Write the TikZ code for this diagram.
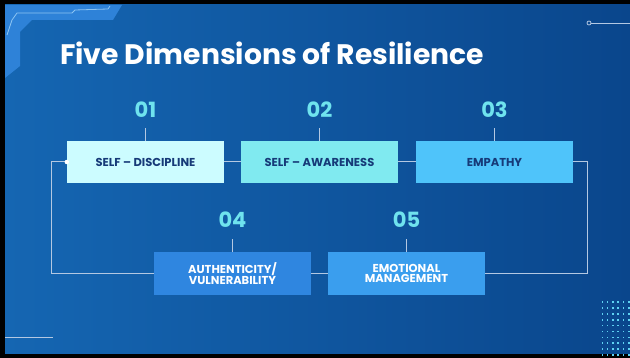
\documentclass[tikz,border=0pt]{standalone}
\usepackage{fontspec}
\setmainfont{Poppins}
\usetikzlibrary{positioning}
\definecolor{bgleft}{HTML}{1566B2}
\definecolor{bgright}{HTML}{0A468C}
\definecolor{cornerblue}{HTML}{2E82D8}
\definecolor{cornerline}{HTML}{8CC4F2}
\definecolor{linkgrey}{HTML}{B4C8E2}
\definecolor{numcyan}{HTML}{6FE3EE}
\definecolor{navy}{HTML}{163A78}
\definecolor{dotcyan}{HTML}{5ED2F2}
\definecolor{boxa}{HTML}{CCFCFF}
\definecolor{boxb}{HTML}{80EAF0}
\definecolor{boxc}{HTML}{4FC4FA}
\definecolor{boxd}{HTML}{2F86E0}
\definecolor{boxe}{HTML}{3A9EEE}
\begin{document}
\begin{tikzpicture}[x=1pt,y=-1pt,
  box/.style={minimum width=157pt,minimum height=42.5pt,inner sep=0pt,align=center,
    font=\bfseries\fontsize{11.5}{10.8}\selectfont},
  num/.style={text=numcyan,font=\bfseries\fontsize{21}{21}\selectfont},
  link/.style={draw=linkgrey,line width=1pt}]
        \useasboundingbox (0,0) rectangle (630,358);
        \fill[black](0,0)rectangle(630,358);
        \shade[left color=bgleft,right color=bgright](5,5)rectangle(630,354);
        \fill[cornerblue](5,5)--(122,5)--(113,20)--(32,20)--(20,32)--(20,66)--(5,78)--cycle;
        \draw[cornerline,line width=0.8pt](7,35)--(12,20)--(17,13)--(72,13)--(75,10)--(108,9)--(110,6);
        \draw[linkgrey,line width=0.8pt](589,23)circle(2);
        \draw[linkgrey,line width=0.8pt](591,23)--(630,23);
        \draw[linkgrey,line width=0.8pt](5,337)--(53,337);
        \foreach \i in {0,...,5}
          \foreach \j in {0,...,9}
            \fill[dotcyan](601.5+5.33*\i,301.5+5.85*\j)rectangle++(1.6,1.6);

        \node[anchor=base west,inner sep=0pt,text=white,font=\bfseries\fontsize{28.2}{28.2}\selectfont](title)at(60,65){Five Dimensions of Resilience};

        \node [box,fill=boxa,text=navy](b1)at(145.5,162){SELF -- DISCIPLINE};
        \node [box,fill=boxb,text=navy](b2)at(319.5,162){SELF -- AWARENESS};
        \node [box,fill=boxc,text=navy](b3)at(494.5,162){EMPATHY};
        \node [box,fill=boxd,text=white](b4)at(232.5,273.5){AUTHENTICITY/\\VULNERABILITY};
        \node [box,fill=boxe,text=white](b5)at(406.5,273.5){EMOTIONAL\\MANAGEMENT};

        \node [num](n1)at(145.5,110){01};
        \node [num](n2)at(319.5,110){02};
        \node [num](n3)at(494.5,110){03};
        \node [num](n4)at(232.5,220){04};
        \node [num](n5)at(406.5,220){05};

        \draw[link](b1.north)--+(0,-13);
        \draw[link](b2.north)--+(0,-13);
        \draw[link](b3.north)--+(0,-13);
        \draw[link](b4.north)--+(0,-13);
        \draw[link](b5.north)--+(0,-13);

        \draw[link](b1.east)--(b2.west);
        \draw[link](b2.east)--(b3.west);
        \draw[link](b4.east)--(b5.west);
        \draw[link](b1.west)--+(-15,0)|-(b4.west);
        \draw[link](b3.east)--+(14,0)|-(b5.east);
        \fill[white](b1.west)circle(2.2);
    \end{tikzpicture}
\end{document}
